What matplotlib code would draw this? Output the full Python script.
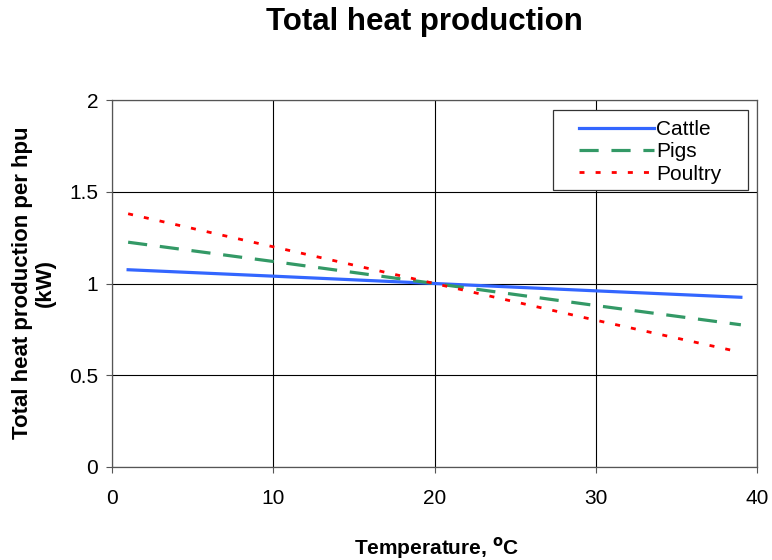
import matplotlib
matplotlib.use("Agg")
import matplotlib.pyplot as plt
from matplotlib.patches import Rectangle

plt.rcParams['font.family'] = ['Liberation Sans', 'DejaVu Sans']

temperature = [1, 10, 20, 30, 39]
cattle = [1.075, 1.04, 1.0, 0.96, 0.925]
pigs = [1.225, 1.12, 1.0, 0.88, 0.775]
poultry = [1.38, 1.20, 1.0, 0.80, 0.625]

fig = plt.figure(figsize=(7.72, 5.6), dpi=100)
ax = fig.add_axes([112/772, 1-467/560, (757-112)/772, (467-100)/560])

ax.plot(temperature, cattle, color='#3366FF', lw=2.3, label='Cattle')
ax.plot(temperature, pigs, color='#339966', lw=2.3, dashes=(6, 4), label='Pigs')
ax.plot(temperature, poultry, color='#FF0000', lw=2.0, dashes=(1.8, 4), label='Poultry')

ax.set_xlim(0, 40)
ax.set_ylim(0, 2)
ax.set_xticks([0, 10, 20, 30, 40])
ax.set_yticks([0, 0.5, 1, 1.5, 2])
ax.set_yticklabels(['0', '0.5', '1', '1.5', '2'])
ax.grid(True, color='black', lw=0.8)
ax.set_axisbelow(True)
for s in ax.spines.values():
    s.set_color('#555555')
    s.set_linewidth(0.9)
ax.tick_params(axis='both', labelsize=15, direction='out', length=4, color='#555555')
ax.tick_params(axis='x', pad=12)
ax.tick_params(axis='y', pad=6)

fig.text(424/772, 1-22/560, 'Total heat production', ha='center', va='center',
         fontsize=22.5, fontweight='bold')
fig.text(437/772, 1-548/560, 'Temperature, $^{\\mathbf{o}}$C', ha='center', va='center',
         fontsize=15, fontweight='bold')
fig.text(34/772, 1-283/560, 'Total heat production per hpu\n(kW)', ha='center', va='center',
         fontsize=16, fontweight='bold', rotation=90, linespacing=1.1)

ax.add_patch(Rectangle((553/772, 1-190/560), (748-553)/772, (190-110)/560,
                       transform=fig.transFigure, facecolor='white',
                       edgecolor='#333333', lw=0.9, zorder=4, clip_on=False))
leg = ax.legend(loc='center left', bbox_to_anchor=(579/772, 1-152/560),
                bbox_transform=fig.transFigure, fontsize=15, frameon=False,
                handlelength=3.6, handletextpad=0.1, labelspacing=0.15,
                borderpad=0, borderaxespad=0)
leg.set_zorder(6)

fig.savefig('out.png', dpi=100)
